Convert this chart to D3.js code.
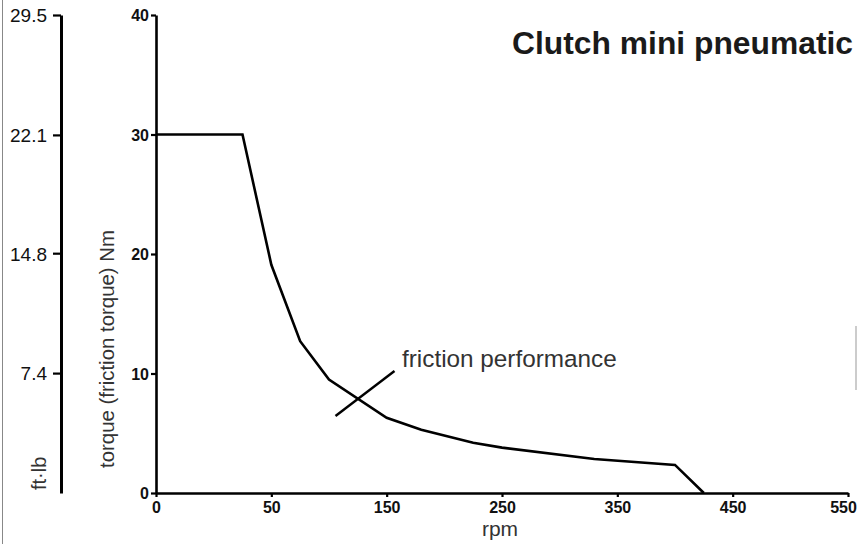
<!DOCTYPE html>
<html>
<head>
<meta charset="utf-8">
<script src="https://cdn.jsdelivr.net/npm/d3@7"></script>
<style>
  html, body { margin: 0; padding: 0; background: #fff; }
  svg { display: block; font-family: "Liberation Sans", Arial, Helvetica, sans-serif; }
</style>
</head>
<body>
<div id="chart"></div>
<script>
// Clutch mini pneumatic - friction torque vs speed

// data
const rpm    = [0, 37.5, 50, 75, 100, 150, 180, 225, 250, 330, 400, 425];
const torque = [30, 30, 19.1, 12.7, 9.5, 6.3, 5.3, 4.2, 3.8, 2.85, 2.35, 0];
const rpmTicks = [0, 50, 150, 250, 350, 450, 550];
const nmTicks = [0, 10, 20, 30, 40];
const ftlbTicks = [7.4, 14.8, 22.1, 29.5];

const width = 858, height = 544;

const svg = d3.select("#chart").append("svg")
    .attr("width", width)
    .attr("height", height);

// thin border on the left edge
svg.append("line")
    .attr("x1", 2.5).attr("x2", 2.5)
    .attr("y1", 0).attr("y2", height)
    .attr("stroke", "#888").attr("stroke-width", 1);

// faint remnant on the right edge
svg.append("line")
    .attr("x1", 856).attr("x2", 856)
    .attr("y1", 326).attr("y2", 390)
    .attr("stroke", "#bbb").attr("stroke-width", 1.5);

// the rpm axis has evenly spaced ticks with uneven labels -> piecewise scale
const x = d3.scaleLinear()
    .domain(rpmTicks)
    .range(rpmTicks.map((d, i) => 156 + i * (848 - 156) / (rpmTicks.length - 1)));

const y = d3.scaleLinear().domain([0, 40]).range([493, 15]);
const yFt = d3.scaleLinear().domain([0, 29.5]).range([493, 15]);

// x axis
const gx = svg.append("g")
    .attr("transform", `translate(0,${y(0)})`)
    .call(d3.axisBottom(x).tickValues(rpmTicks).tickFormat(d3.format("d")).tickSize(4).tickSizeOuter(0));

// Nm axis
const gy = svg.append("g")
    .attr("transform", `translate(${x(0)},0)`)
    .call(d3.axisLeft(y).tickValues(nmTicks).tickSize(5).tickSizeOuter(0));

[gx, gy].forEach(g => {
    g.select(".domain").attr("stroke", "#000").attr("stroke-width", 2.6);
    g.selectAll(".tick line").attr("stroke", "#000").attr("stroke-width", 2.2);
    g.selectAll(".tick text")
        .attr("fill", "#111")
        .style("font-size", "16px")
        .style("font-weight", "bold");
});
gx.selectAll(".tick text").attr("dy", "0.8em");
// last label is pulled in so it stays on the page
gx.selectAll(".tick text").filter(d => d === 550).attr("x", -5);
gy.selectAll(".tick text").attr("x", -7).attr("dy", "0.36em");

// ft·lb axis
const gft = svg.append("g")
    .attr("transform", "translate(61,0)")
    .call(d3.axisLeft(yFt).tickValues(ftlbTicks).tickFormat(d3.format(".1f")).tickSize(8).tickSizeOuter(0));

gft.select(".domain").attr("stroke", "#000").attr("stroke-width", 3);
gft.selectAll(".tick line").attr("stroke", "#000").attr("stroke-width", 2.2);
gft.selectAll(".tick text")
    .attr("fill", "#111")
    .attr("x", -14)
    .attr("dy", "0.36em")
    .style("font-size", "19px");

// the curve
const line = d3.line()
    .x(d => x(d[0]))
    .y(d => y(d[1]));

svg.append("path")
    .datum(d3.zip(rpm, torque))
    .attr("d", line)
    .attr("fill", "none")
    .attr("stroke", "#000")
    .attr("stroke-width", 2.6)
    .attr("stroke-linejoin", "miter");

// annotation leader
svg.append("line")
    .attr("x1", 335.5).attr("y1", 416)
    .attr("x2", 394.5).attr("y2", 371)
    .attr("stroke", "#000").attr("stroke-width", 2.4);

svg.append("text")
    .attr("x", 402).attr("y", 367)
    .attr("fill", "#333")
    .style("font-size", "24.3px")
    .text("friction performance");

// title
svg.append("text")
    .attr("x", 853).attr("y", 54)
    .attr("text-anchor", "end")
    .attr("fill", "#1a1a1a")
    .style("font-size", "31.8px")
    .style("font-weight", "bold")
    .text("Clutch mini pneumatic");

// axis titles
svg.append("text")
    .attr("x", 500).attr("y", 536)
    .attr("text-anchor", "middle")
    .attr("fill", "#333")
    .style("font-size", "21px")
    .text("rpm");

svg.append("text")
    .attr("transform", "translate(114,468) rotate(-90)")
    .attr("fill", "#333")
    .style("font-size", "20.4px")
    .text("torque (friction torque) Nm");

svg.append("text")
    .attr("transform", "translate(46,490) rotate(-90)")
    .attr("fill", "#333")
    .style("font-size", "20px")
    .text("ft·lb");
</script>
</body>
</html>
